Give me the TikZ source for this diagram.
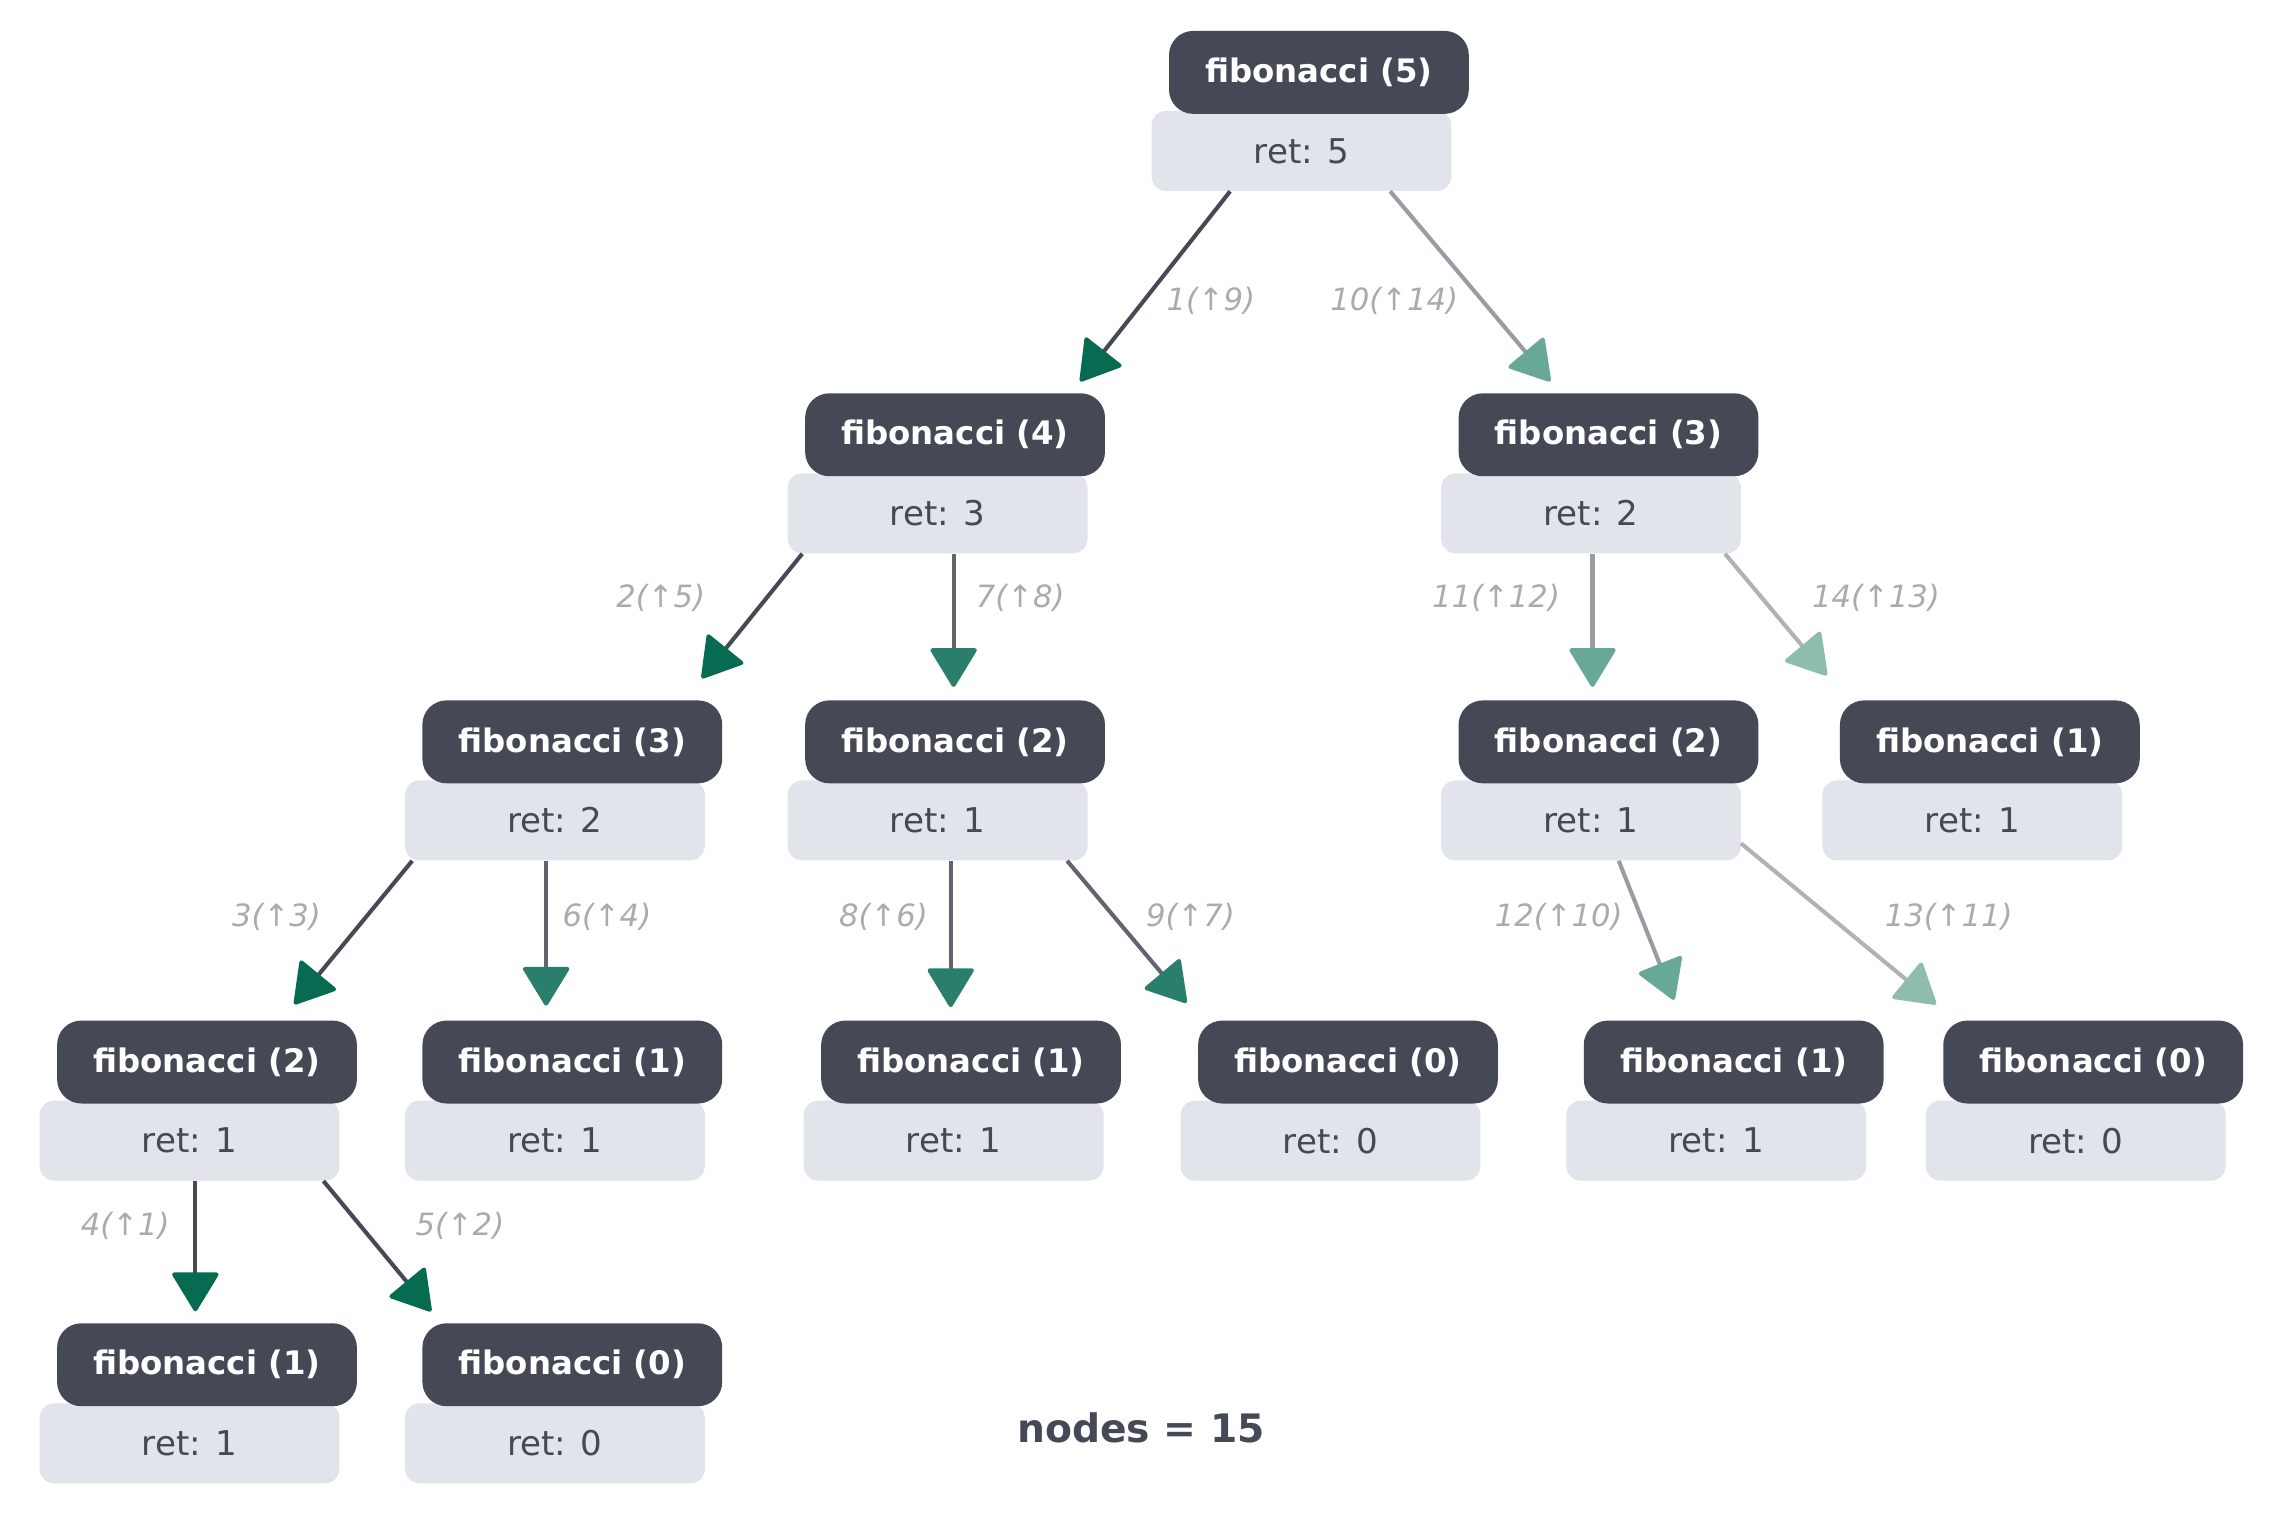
\documentclass[tikz,border=0pt]{standalone}
\usepackage{fontspec}
\setmainfont{DejaVu Sans}
\usetikzlibrary{arrows.meta,calc}
\definecolor{titlefill}{HTML}{454955}
\definecolor{retfill}{HTML}{E1E4EB}
\definecolor{lbl}{HTML}{ABABAB}
\definecolor{ldark}{HTML}{464A56}
\definecolor{lmed}{HTML}{62656F}
\definecolor{llight}{HTML}{9A9CA3}
\definecolor{llightest}{HTML}{B1B2B7}
\definecolor{adark}{HTML}{066B50}
\definecolor{amed}{HTML}{2A7F6C}
\definecolor{alight}{HTML}{68A898}
\definecolor{alightest}{HTML}{8EBDB0}
\tikzset{
 titlebox/.style={fill=titlefill, rounded corners=0.5cm, minimum width=6.18cm, minimum height=1.71cm, inner sep=0pt, text=white, font=\fontsize{19}{22}\selectfont\bfseries},
 retbox/.style={fill=retfill, rounded corners=0.3cm, minimum width=6.18cm, minimum height=1.65cm, inner sep=0pt, text=titlefill, font=\fontsize{20}{24}\selectfont},
 lab/.style={text=lbl, font=\fontsize{18}{22}\selectfont\itshape, inner sep=0pt},
 tip/.style={-{Triangle[width=1.0cm,length=0.84cm,round,color=#1]}},
 edark/.style={draw=ldark, line width=2.4pt, tip=adark},
 emed/.style={draw=lmed, line width=2.4pt, tip=amed},
 elight/.style={draw=llight, line width=2.4pt, tip=alight},
 elightest/.style={draw=llightest, line width=2.4pt, tip=alightest},
}
\newcommand\fibnode[5]{%
 \node[retbox, anchor=north west] (r#1) at (#2-12,#3+55) {ret: #5};
 \node[titlebox, anchor=north west] (t#1) at (#2,#3) {fibonacci (#4)};
}
\begin{document}
\begin{tikzpicture}[x=0.03cm,y=-0.03cm]
\useasboundingbox (0,0) rectangle (1568,1041);
\fibnode{5}{803}{21}{5}{5}
\fibnode{4}{553}{270}{4}{3}
\fibnode{3r}{1002}{270}{3}{2}
\fibnode{3l}{290}{481}{3}{2}
\fibnode{2m}{553}{481}{2}{1}
\fibnode{2r}{1002}{481}{2}{1}
\fibnode{1r}{1264}{481}{1}{1}
\fibnode{2a}{39}{701}{2}{1}
\fibnode{1a}{290}{701}{1}{1}
\fibnode{1b}{564}{701}{1}{1}
\fibnode{0b}{823}{701}{0}{0}
\fibnode{1c}{1088}{701}{1}{1}
\fibnode{0c}{1335}{701}{0}{0}
\fibnode{1d}{39}{909}{1}{1}
\fibnode{0d}{290}{909}{0}{0}

\draw[edark] ($(r5.south)+(-49,0)$) -- ($(t4.north)+(86,-8)$);
\draw[elight] ($(r5.south)+(61,0)$) -- ($(t3r.north)+(-40,-8)$);
\draw[edark] ($(r4.south)+(-93,0)$) -- ($(t3l.north)+(89,-15)$);
\draw[emed] ($(r4.south)+(11,0)$) -- ($(t2m.north)+(-1,-9)$);
\draw[elight] ($(r3r.south)+(1,0)$) -- ($(t2r.north)+(-11,-9)$);
\draw[elightest] ($(r3r.south)+(92,0)$) -- ($(t1r.north)+(-112,-17)$);
\draw[edark] ($(r3l.south)+(-98,0)$) -- ($(t2a.north)+(60,-11)$);
\draw[emed] ($(r3l.south)+(-6,0)$) -- ($(t1a.north)+(-18,-10)$);
\draw[emed] ($(r2m.south)+(9,0)$) -- ($(t1b.north)+(-14,-9)$);
\draw[emed] ($(r2m.south)+(89,0)$) -- ($(t0b.north)+(-111,-12)$);
\draw[elight] ($(r2r.south)+(19,0)$) -- ($(t1c.north)+(-41,-14)$);
\draw[elightest] ($(r2r.south)+(103,-12)$) -- ($(t0c.north)+(-108,-11)$);
\draw[edark] ($(r2a.south)+(4,0)$) -- ($(t1d.north)+(-8,-8)$);
\draw[edark] ($(r2a.south)+(92,0)$) -- ($(t0d.north)+(-97,-8)$);

\node[lab] (l1) at (832,207) {1(↑9)};
\node[lab] (l10) at (958,207) {10(↑14)};
\node[lab] (l2) at (454,411) {2(↑5)};
\node[lab] (l7) at (701,411) {7(↑8)};
\node[lab] (l11) at (1028,411) {11(↑12)};
\node[lab] (l14) at (1289,411) {14(↑13)};
\node[lab] (l3) at (190,630) {3(↑3)};
\node[lab] (l6) at (417,630) {6(↑4)};
\node[lab] (l8) at (607,630) {8(↑6)};
\node[lab] (l9) at (818,630) {9(↑7)};
\node[lab] (l12) at (1071,630) {12(↑10)};
\node[lab] (l13) at (1339,630) {13(↑11)};
\node[lab] (l4) at (86,842) {4(↑1)};
\node[lab] (l5) at (316,842) {5(↑2)};

\node[text=titlefill, font=\fontsize{23}{27}\selectfont\bfseries, inner sep=0pt] (count) at (784,981) {nodes = 15};
\end{tikzpicture}
\end{document}
